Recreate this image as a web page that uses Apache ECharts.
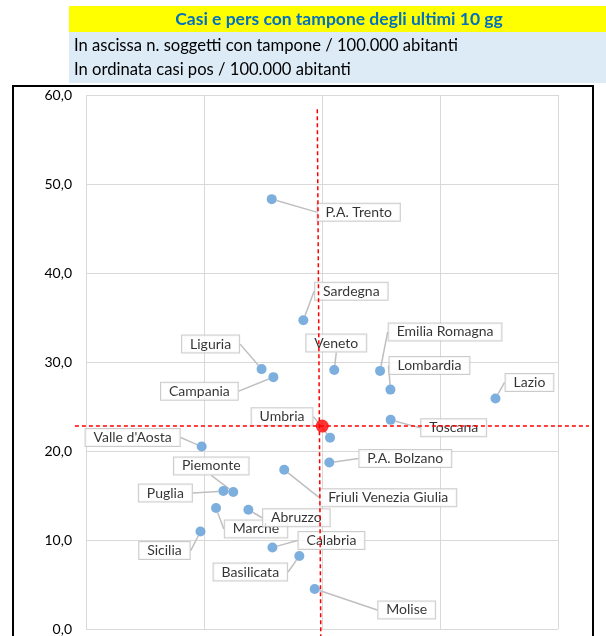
<!DOCTYPE html>
<html>
<head>
<meta charset="utf-8">
<script src="https://cdn.jsdelivr.net/npm/echarts@6/dist/echarts.min.js"></script>
<style>
html,body{margin:0;padding:0;background:#fff;}
#chart{width:606px;height:636px;}
</style>
</head>
<body>
<div id="chart"></div>
<script>
// ---- data ----
var regions = ["P.A. Trento","Sardegna","Liguria","Campania","Veneto","Emilia Romagna","Lombardia","Lazio","Toscana","Umbria","P.A. Bolzano","Valle d'Aosta","Friuli Venezia Giulia","Piemonte","Puglia","Marche","Abruzzo","Sicilia","Calabria","Basilicata","Molise"];
var testsPer100k = [787, 921, 744, 794, 1052, 1246, 1290, 1735, 1291, 1034, 1031, 490, 840, 624, 582, 551, 688, 485, 790, 904, 969];
var casesPer100k = [48.3, 34.7, 29.2, 28.3, 29.1, 29.0, 26.9, 25.9, 23.5, 21.5, 18.7, 20.5, 17.9, 15.4, 15.5, 13.6, 13.4, 10.95, 9.16, 8.2, 4.5];
var italyPoint = [1001, 22.8];
// reference lines through the national average: [x1, y1, x2, y2]
var italyHLine = [-47, 22.8, 2131, 22.8];
var italyVLine = [980, 58.4, 995, -1];
var yTicks = [0, 10, 20, 30, 40, 50, 60];
var titleText = "Casi e pers con tampone degli ultimi 10 gg";
var subLine1 = "In ascissa n. soggetti con tampone / 100.000 abitanti";
var subLine2 = "In ordinata casi pos / 100.000 abitanti";

// ---- label layout (pixel offsets of callout boxes) ----
var labelOffsets = {
  "P.A. Trento":[87,13], "Sardegna":[48,-29], "Liguria":[-51,-25], "Campania":[-74,14],
  "Veneto":[2,-27], "Emilia Romagna":[65,-39], "Lombardia":[39,-24], "Lazio":[34,-16],
  "Toscana":[63,8], "Umbria":[-48,-21], "P.A. Bolzano":[76,-4], "Valle d'Aosta":[-69,-9],
  "Friuli Venezia Giulia":[104,28], "Piemonte":[-22,-26], "Puglia":[-58,2], "Marche":[40,21],
  "Abruzzo":[48,8], "Sicilia":[-36,19], "Calabria":[59,-7], "Basilicata":[-49,16], "Molise":[92,21]
};

var scatterData = regions.map(function(r,i){ return {name:r, value:[testsPer100k[i], casesPer100k[i]]}; });
var FONT = 'Lato, "Open Sans", sans-serif';

function refLineItem(params, api){
  var p1 = api.coord([api.value(0), api.value(1)]);
  var p2 = api.coord([api.value(2), api.value(3)]);
  return {type:'line', shape:{x1:p1[0], y1:p1[1], x2:p2[0], y2:p2[1]},
    style:{stroke:'#ff0000', lineWidth:1.5, lineDash:[4,3]}};
}

var chart = echarts.init(document.getElementById('chart'), null, {renderer:'canvas'});
var option = {
  animation:false,
  backgroundColor:'#ffffff',
  graphic:[
    {type:'rect', shape:{x:69,y:6,width:537,height:26}, style:{fill:'#ffff00'}, z:0},
    {type:'rect', shape:{x:69,y:32,width:537,height:51}, style:{fill:'#ddebf7'}, z:0},
    {type:'text', x:339, y:19, style:{text:titleText, fill:'#0070c0', font:'bold 17.5px '+FONT, textAlign:'center', textVerticalAlign:'middle'}, z:1},
    {type:'text', x:74, y:46, style:{text:subLine1, fill:'#000', font:'16.6px '+FONT, textAlign:'left', textVerticalAlign:'middle'}, z:1},
    {type:'text', x:74, y:70, style:{text:subLine2, fill:'#000', font:'16.6px '+FONT, textAlign:'left', textVerticalAlign:'middle'}, z:1},
    {type:'rect', shape:{x:13,y:86,width:580,height:570}, style:{fill:'none', stroke:'#000', lineWidth:2}, z:0}
  ],
  grid:{left:86, top:95, width:472, height:535, containLabel:false},
  xAxis:{type:'value', min:0, max:2000, interval:500,
    axisLine:{show:false}, axisTick:{show:false}, axisLabel:{show:false},
    splitLine:{show:true, lineStyle:{color:'#d9d9d9', width:1}}},
  yAxis:{type:'value', min:yTicks[0], max:yTicks[yTicks.length-1], interval:10,
    axisLine:{show:false}, axisTick:{show:false},
    axisLabel:{margin:14, color:'#000', fontSize:14, fontFamily:FONT,
      formatter:function(v){ return v.toFixed(1).replace('.',','); }},
    splitLine:{show:true, lineStyle:{color:'#d9d9d9', width:1}}},
  series:[
    {type:'scatter', data:scatterData, symbolSize:10, itemStyle:{color:'#5b9bd5'}, z:3,
      label:{show:true, position:'inside', formatter:'{b}', color:'#000', fontSize:14, fontFamily:FONT, lineHeight:15,
        backgroundColor:'#fff', borderColor:'#bfbfbf', borderWidth:1, padding:[1,8]},
      labelLine:{show:true, lineStyle:{color:'#bfbfbf', width:1.5}},
      labelLayout:function(p){ var o = labelOffsets[regions[p.dataIndex]]; return {dx:o[0], dy:o[1]}; },
      emphasis:{disabled:true}},
    {type:'custom', data:[italyHLine, italyVLine], renderItem:refLineItem, clip:false, z:5, silent:true,
      encode:{x:[0,2], y:[1,3]}},
    {type:'scatter', data:[italyPoint], symbolSize:13, itemStyle:{color:'#ff0000'}, z:6, silent:true}
  ]
};
chart.setOption(option);
</script>
</body>
</html>
